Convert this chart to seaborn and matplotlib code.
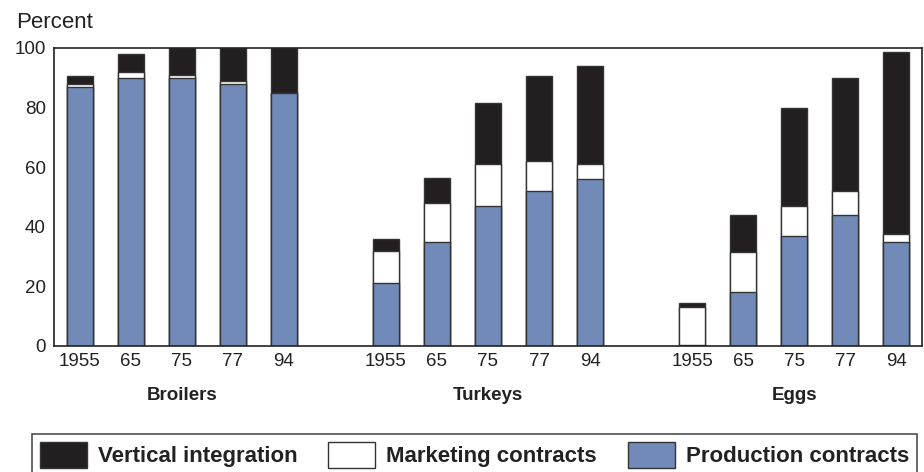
import numpy as np
import pandas as pd
import matplotlib
matplotlib.use("Agg")
import matplotlib.pyplot as plt
from matplotlib.patches import Patch
import seaborn as sns

# --- data (percent of output) ---
groups = ["Broilers", "Turkeys", "Eggs"]
years = ["1955", "65", "75", "77", "94"]
production = {
    "Broilers": [87, 90, 90, 88, 85],
    "Turkeys": [21, 35, 47, 52, 56],
    "Eggs": [0.5, 18, 37, 44, 35],
}
marketing = {
    "Broilers": [1, 2, 1, 1, 0],
    "Turkeys": [11, 13, 14, 10, 5],
    "Eggs": [12.5, 13.5, 10, 8, 2.5],
}
vertical = {
    "Broilers": [2.5, 6, 9, 11, 15],
    "Turkeys": [4, 8.5, 20.5, 28.5, 33],
    "Eggs": [1.5, 12.5, 33, 38, 61],
}

c_vert = "#231f20"
c_mkt = "#ffffff"
c_prod = "#728ab8"
edge = "#333333"

rows = []
for gi, g in enumerate(groups):
    for yi, y in enumerate(years):
        p = production[g][yi]
        m = marketing[g][yi]
        v = vertical[g][yi]
        rows.append({"group": g, "year": y, "pos": gi * 6 + yi,
                     "prod": p, "prod_mkt": p + m, "total": p + m + v})
df = pd.DataFrame(rows)

sns.set_style("white")
plt.rcParams["font.family"] = ["Liberation Sans", "DejaVu Sans"]

fig = plt.figure(figsize=(9.24, 4.72), dpi=100)
ax = fig.add_axes([54 / 924, 1 - 346 / 472, 868 / 924, 298 / 472])

# stacked bars: draw cumulative totals back to front
kw = dict(native_scale=True, width=0.51, edgecolor=edge, linewidth=1.0, ax=ax, errorbar=None)
sns.barplot(data=df, x="pos", y="total", color=c_vert, saturation=1, **kw)
sns.barplot(data=df, x="pos", y="prod_mkt", color=c_mkt, saturation=1, **kw)
sns.barplot(data=df, x="pos", y="prod", color=c_prod, saturation=1, **kw)

ax.set_xlim(-0.5, 16.5)
ax.set_ylim(0, 100)
ax.set_yticks(range(0, 101, 20))
ax.set_xticks(df["pos"], df["year"])
ax.tick_params(axis="y", direction="in", length=9, width=1, labelsize=13.5, pad=6,
               color="#222222", labelcolor="#222222")
ax.tick_params(axis="x", length=0, labelsize=13.5, pad=5, labelcolor="#222222")
ax.set_xlabel("")
ax.set_ylabel("")
for s in ax.spines.values():
    s.set_visible(True)
    s.set_color("#222222")
    s.set_linewidth(1.2)

for gi, g in enumerate(groups):
    ax.text(gi * 6 + 2, -0.165, g, transform=ax.get_xaxis_transform(),
            ha="center", va="center", fontsize=13.5, fontweight="bold", color="#222222")

fig.text(16 / 924, 1 - 23 / 472, "Percent", fontsize=16, va="center", ha="left", color="#222222")

handles = [Patch(facecolor=c_vert, edgecolor=edge), Patch(facecolor=c_mkt, edgecolor=edge),
           Patch(facecolor=c_prod, edgecolor=edge)]
labels = ["Vertical integration", "Marketing contracts", "Production contracts"]
leg = fig.legend(handles, labels, ncol=3, loc="lower left", mode="expand",
                 bbox_to_anchor=(32 / 924, -0.0085, 885 / 924, 0.1),
                 prop={"size": 16, "weight": "bold"}, frameon=True, fancybox=False,
                 handlelength=2.1, handleheight=1.45, handletextpad=0.5, columnspacing=1.1,
                 borderpad=0.36, borderaxespad=0, labelcolor="#222222")
leg.get_frame().set_edgecolor("#222222")
leg.get_frame().set_linewidth(1.2)

fig.savefig("out.png", dpi=100)
